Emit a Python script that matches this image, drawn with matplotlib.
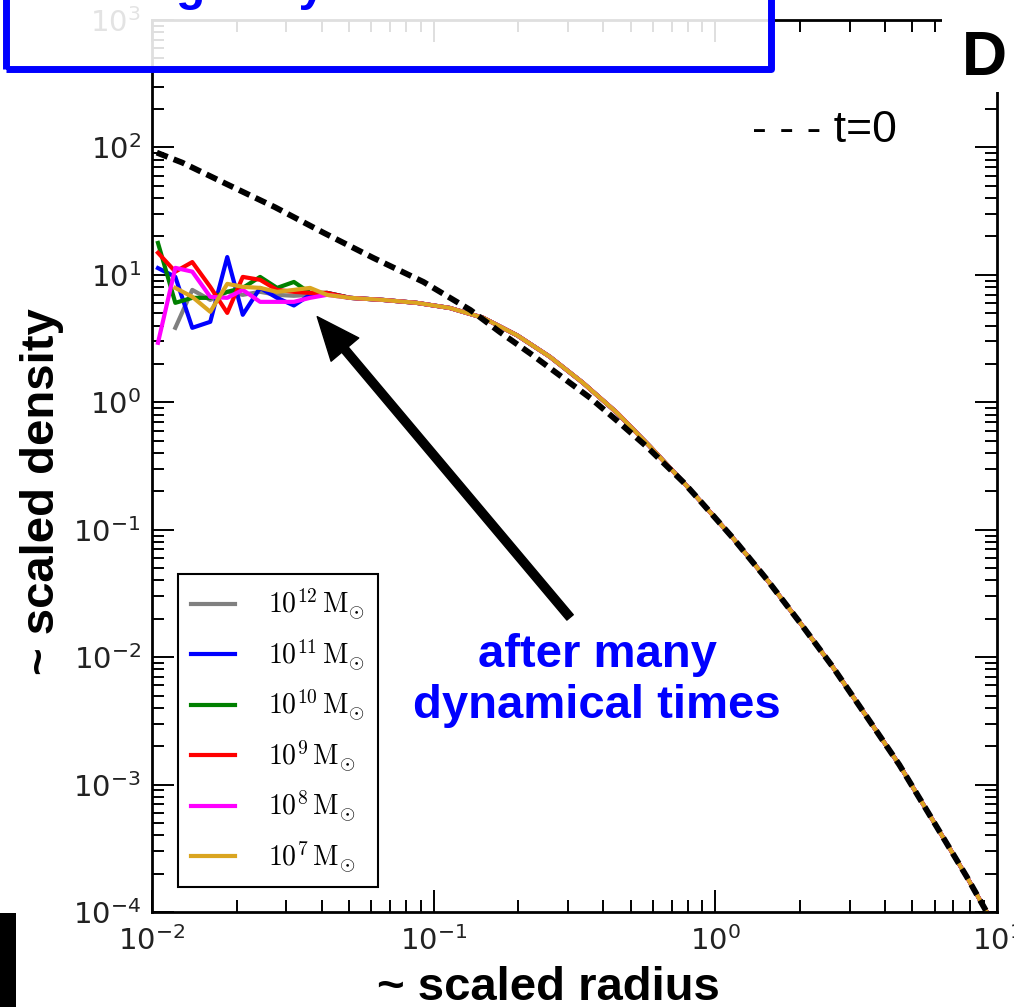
import numpy as np
import matplotlib.pyplot as plt
from matplotlib.patches import Rectangle
from matplotlib.font_manager import FontProperties

plt.rcParams['axes.unicode_minus'] = False

# inner radius bins, where the runs are still noisy
r_inner = [0.0105, 0.0121, 0.0139, 0.0161, 0.0185, 0.0210, 0.0242, 0.0278, 0.0319, 0.0364, 0.0418]

rho_m12 = [None, 3.84, 7.62, 6.36, 7.36, 6.97, 7.36, 6.97, 6.85, 6.97, 7.1]
rho_m11 = [11.3, 9.64, 3.84, 4.28, 13.8, 4.86, 7.9, 6.6, 5.75, 6.97, 7.22]
rho_m10 = [17.8, 6.03, 6.6, 6.6, 7.36, 7.9, 9.64, 7.9, 8.8, 7.22, 7.22]
rho_m9 = [14.9, 10.6, 12.6, 8.05, 5.03, 9.64, 9.14, 7.62, 7.36, 7.22, 7.22]
rho_m8 = [2.93, 11.35, 10.6, 6.72, 6.6, 7.62, 6.14, 6.14, 6.14, 6.6, 6.97]
rho_m7 = [None, 7.9, 6.72, 5.13, 8.5, 8.05, 7.9, 7.36, 7.62, 7.9, 6.97]

# outer part, all runs lie on top of each other
r_outer = [0.0505, 0.066, 0.087, 0.114, 0.15, 0.198, 0.259, 0.339, 0.448, 0.586,
           0.77, 0.88, 1.15, 1.52, 2.0, 2.6, 3.45, 4.5, 5.9, 7.8, 9.1, 10.0]
rho_outer = [6.6, 6.36, 6.03, 5.5, 4.6, 3.35, 2.27, 1.42, 0.826, 0.45,
             0.236, 0.17, 0.087, 0.041, 0.0186, 0.0085, 0.0034, 0.00143, 5.3e-4, 1.9e-4, 1.04e-4, 7.5e-5]

# initial profile (t=0)
r_t0 = [0.0104, 0.0128, 0.0186, 0.0273, 0.0405, 0.061, 0.092, 0.135, 0.172, 0.22, 0.28,
        0.36, 0.45, 0.57, 0.77, 0.88, 1.15, 1.52, 2.0, 2.6, 3.45, 4.5, 5.9, 7.8, 9.1, 10.0]
rho_t0 = [91, 76, 51, 34, 21.5, 13.6, 8.8, 5.3, 3.55, 2.42, 1.63,
          1.08, 0.71, 0.45, 0.236, 0.17, 0.087, 0.041, 0.0186, 0.0085, 0.0034, 0.00143,
          5.3e-4, 1.9e-4, 1.04e-4, 7.5e-5]

labels = [r'$10^{12}\,\mathrm{M}_{\odot}$', r'$10^{11}\,\mathrm{M}_{\odot}$', r'$10^{10}\,\mathrm{M}_{\odot}$',
          r'$10^{9}\,\mathrm{M}_{\odot}$', r'$10^{8}\,\mathrm{M}_{\odot}$', r'$10^{7}\,\mathrm{M}_{\odot}$']
colors = ['#808080', '#0000ff', '#008000', '#ff0000', '#ff00ff', '#daa520']
runs = [rho_m12, rho_m11, rho_m10, rho_m9, rho_m8, rho_m7]

arrow_tip = (0.0386, 4.7)
arrow_tail = (0.305, 0.0205)

W, H = 1014, 1007
fig = plt.figure(figsize=(W / 100, H / 100), dpi=100)
ax = fig.add_axes([152 / W, 1 - 912 / H, 845 / W, 892 / H])

for rho, c, lab in zip(runs, colors, labels):
    r = np.array(r_inner + r_outer)
    y = np.array(rho + rho_outer, dtype=float)
    ax.plot(r, y, color=c, lw=3, label=lab)

ax.plot(r_t0, rho_t0, color='black', lw=4.2, dashes=(2, 1.1))

ax.set_xscale('log')
ax.set_yscale('log')
ax.set_xlim(1e-2, 1e1)
ax.set_ylim(1e-4, 1e3)

ax.tick_params(which='both', direction='in', top=True, right=True, width=1.4, colors='black',
               labelcolor='#222222', labelsize=21)
ax.tick_params(which='major', length=16)
ax.tick_params(which='minor', length=8.5)
ax.tick_params(axis='y', pad=8)
ax.tick_params(axis='x', pad=10)
for s in ax.spines.values():
    s.set_linewidth(2)

leg = ax.legend(loc='lower left', bbox_to_anchor=(0.0308, 0.028), borderaxespad=0,
                fancybox=False, edgecolor='black', framealpha=1,
                prop=FontProperties(size=20, math_fontfamily='cm'),
                handlelength=1.6, handletextpad=1.2, labelspacing=0.54, borderpad=0.45)
leg.get_frame().set_linewidth(1.5)

ax.annotate('', xy=arrow_tip, xytext=arrow_tail,
            arrowprops=dict(arrowstyle='simple,head_length=0.62,head_width=0.52,tail_width=0.12',
                            color='black', mutation_scale=50, shrinkA=0, shrinkB=0))

bold = dict(family='Liberation Sans', weight='bold')
fig.text(597 / W, 1 - 667 / H, 'after many', ha='center', va='baseline', color='#0000ff', fontsize=34, **bold)
fig.text(597 / W, 1 - 718 / H, 'dynamical times', ha='center', va='baseline', color='#0000ff', fontsize=34, **bold)

fig.text(752 / W, 1 - 142 / H, '- - - t=0', ha='left', va='baseline', fontsize=32, family='Liberation Sans')

fig.text(548 / W, 1 - 1000 / H, '~ scaled radius', ha='center', va='baseline', fontsize=34, **bold)
fig.text(42 / W, 1 - 492 / H, '~ scaled density', ha='center', va='center', rotation=90, fontsize=34, **bold)

# slide overlays
box = Rectangle((6 / W, 1 - 69 / H), 765 / W, 0.2, facecolor='white', alpha=0.88,
                edgecolor='none', zorder=5, transform=fig.transFigure)
fig.add_artist(box)
box_edge = Rectangle((6 / W, 1 - 69 / H), 765 / W, 0.2, facecolor='none',
                     edgecolor='#0000ff', lw=5, zorder=6, transform=fig.transFigure, joinstyle='round')
fig.add_artist(box_edge)
fig.text(176 / W, 1.0, 'galaxy', ha='left', va='baseline', color='#0000ff', fontsize=34.5, zorder=7, **bold)

corner = Rectangle((942 / W, 1 - 92 / H), 72 / W, 92 / H, facecolor='white', edgecolor='none',
                   zorder=5, transform=fig.transFigure)
fig.add_artist(corner)
fig.text(962 / W, 1 - 75 / H, 'D', ha='left', va='baseline', fontsize=45, zorder=7, **bold)

black_bar = Rectangle((0, 0), 16 / W, 94 / H, facecolor='black', edgecolor='none',
                      zorder=5, transform=fig.transFigure)
fig.add_artist(black_bar)

fig.savefig('out.png', dpi=100)
